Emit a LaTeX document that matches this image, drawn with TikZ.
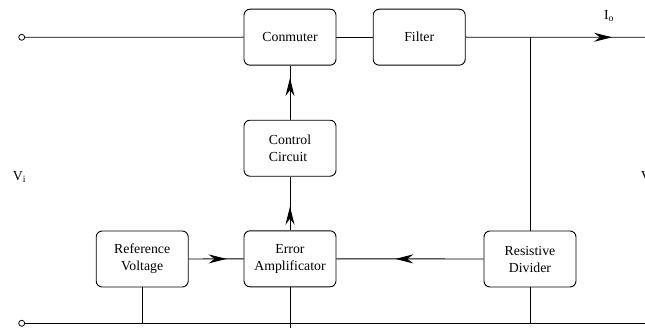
\documentclass[tikz,border=0pt]{standalone}
\usepackage{fontspec}
\setmainfont{Liberation Serif}
\usetikzlibrary{arrows.meta,decorations.markings}
\begin{document}
\begin{tikzpicture}[x=1pt,y=-1pt,
  line width=0.9pt,
  block/.style={draw,rounded corners=6pt,minimum width=92pt,minimum height=56pt,
    inner sep=0pt,align=center,font=\fontsize{13.8}{17}\selectfont},
  terminal/.style={draw,circle,fill=white,inner sep=0pt,minimum size=6pt,line width=0.8pt},
  lbl/.style={inner sep=0pt,font=\fontsize{13.8}{17}\selectfont},
  kite/.tip={Stealth[length=18pt,width=9pt,inset=6pt]},
  midarrow/.style={postaction={decorate},
    decoration={markings,mark=at position #1 with {\arrow{kite}}}}]
\useasboundingbox (0,0) rectangle (645,329);

% function blocks
\node[block] (conm)   at (290,37.2)  {Conmuter};
\node[block] (filter) at (419.2,37.2) {Filter};
\node[block,align=left] (ctrl) at (290,148.2) {Control\\Circuit};
\node[block] (ea)     at (290,258.8) {Error\\Amplificator};
\node[block] (rv)     at (142.2,259) {Reference\\Voltage};
\node[block] (rd)     at (530,259)   {Resistive\\Divider};

% terminals and junction points
\node[terminal] (inT) at (21.7,37.3) {};
\node[terminal] (inB) at (21.7,323.3) {};
\coordinate (outT) at (645,37.3);
\coordinate (outB) at (645,323.3);
\coordinate (tap)  at (530,37.3);
\coordinate (jRV)  at (142.2,323.3);
\coordinate (jEA)  at (290,328);
\coordinate (jRD)  at (530,323.3);

% power path
\draw (inT) -- (conm.west);
\draw (conm.east) -- (filter.west);
\draw[midarrow=0.816] (filter.east) -- (outT);
\draw (inB) -- (outB);

% feedback loop
\draw (tap) -- (rd.north);
\draw (rd.south) -- (jRD);
\draw[midarrow=0.6] (rd.west) -- (ea.east);
\draw[midarrow=0.69] (rv.east) -- (ea.west);
\draw[midarrow=0.44] (ea.north) -- (ctrl.south);
\draw[midarrow=0.77] (ctrl.north) -- (conm.south);
\draw (rv.south) -- (jRV);
\draw (ea.south) -- (jEA);

% labels
\node[lbl] (vi) at (19.5,177) {V\textsubscript{i}};
\node[lbl] (io) at (609,16) {I\textsubscript{o}};
\node[lbl,anchor=west] (vo) at (640.5,177) {V\textsubscript{o}};
\end{tikzpicture}
\end{document}
